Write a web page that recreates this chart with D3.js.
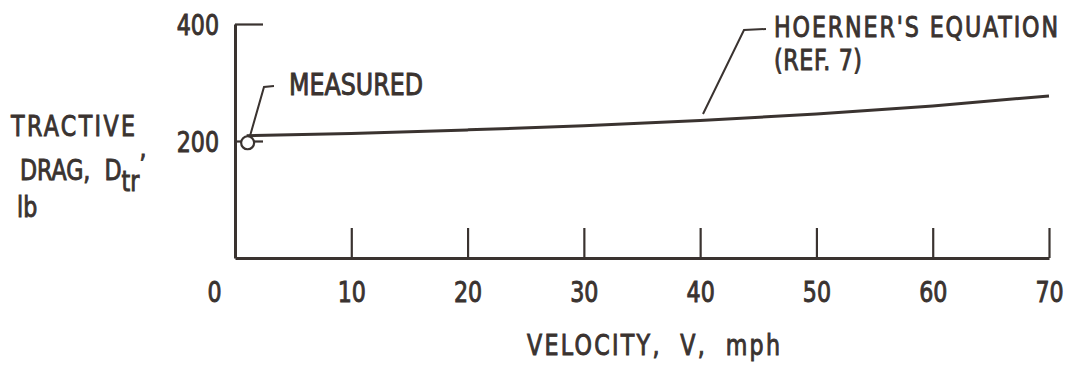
<!DOCTYPE html>
<html>
<head>
<meta charset="utf-8">
<script src="https://cdn.jsdelivr.net/npm/d3@7"></script>
<style>
  html, body { margin: 0; padding: 0; background: #fff; }
  svg { display: block; }
  text { font-family: "DejaVu Sans Condensed", "DejaVu Sans", sans-serif; fill: #3a3330; stroke: #3a3330; stroke-width: 0.9; }
</style>
</head>
<body>
<svg id="chart" width="1069" height="372"></svg>
<script>
// Velocity ticks (mph) and tractive drag ticks (lb)
const xTicks = [0, 10, 20, 30, 40, 50, 60, 70];
const yTicks = [200, 400];

// Hoerner's equation (Ref. 7): drag vs velocity
const hoernerV = [1, 10, 20, 30, 40, 50, 60, 70];
const hoernerD = [209, 213, 219, 226, 235, 246, 260, 277];

// Measured drag point
const measuredV = [1];
const measuredD = [197];

const ink = "#3a3330";
const sx = 0.88; // horizontal squeeze for the tall, narrow lettering
const svg = d3.select("#chart");

const x = d3.scaleLinear().domain([0, 70]).range([235, 1049]);
const y = d3.scaleLinear().domain([0, 400]).range([258, 24]);

// x axis: ticks point up into the plot
const xAxis = svg.append("g")
  .attr("transform", `translate(0,${y(0)})`)
  .call(d3.axisBottom(x).tickValues(xTicks).tickSizeInner(-30).tickSizeOuter(0).tickPadding(24));
xAxis.select(".domain").attr("stroke", ink).attr("stroke-width", 3);
xAxis.selectAll(".tick line").attr("stroke", ink).attr("stroke-width", 2.2);
xAxis.selectAll(".tick text").attr("font-size", 28).attr("font-family", null).attr("fill", null)
  .attr("x", d => d === 0 ? -21 / sx : 0)
  .attr("transform", `scale(${sx},1)`);

// y axis: ticks point right into the plot
const yAxis = svg.append("g")
  .attr("transform", `translate(${x(0)},0)`)
  .call(d3.axisLeft(y).tickValues(yTicks).tickSizeInner(-28).tickSizeOuter(0).tickPadding(16));
yAxis.select(".domain").attr("stroke", ink).attr("stroke-width", 3);
yAxis.selectAll(".tick line").attr("stroke", ink).attr("stroke-width", 2.2);
yAxis.selectAll(".tick text").attr("font-size", 28).attr("font-family", null).attr("fill", null)
  .attr("x", -16 / sx).attr("dy", "0.36em")
  .attr("transform", `scale(${sx},1)`);

// Hoerner curve
const line = d3.line().x((d, i) => x(hoernerV[i])).y(d => y(d)).curve(d3.curveMonotoneX);
svg.append("path").datum(hoernerD)
  .attr("d", line).attr("fill", "none").attr("stroke", ink).attr("stroke-width", 3);

// Measured point
svg.selectAll("circle.meas").data(measuredD).join("circle")
  .attr("class", "meas")
  .attr("cx", (d, i) => x(measuredV[i]) + 1)
  .attr("cy", d => y(d))
  .attr("r", 6.5)
  .attr("fill", "#fff").attr("stroke", ink).attr("stroke-width", 2.2);

// Leader lines
const leader = d3.line();
svg.append("path")
  .attr("d", leader([[250, 136], [264, 87], [274, 86]]))
  .attr("fill", "none").attr("stroke", ink).attr("stroke-width", 2);
svg.append("path")
  .attr("d", leader([[703, 114], [744, 30], [766, 29]]))
  .attr("fill", "none").attr("stroke", ink).attr("stroke-width", 2);

// Narrow label placed at (px, py); optional width fixes its overall length
function label(px, py, str, size, width) {
  const t = svg.append("g").attr("transform", `translate(${px},${py}) scale(${sx},1)`)
    .append("text").attr("font-size", size).attr("xml:space", "preserve");
  if (str !== null) t.text(str);
  if (width) t.attr("textLength", width / sx).attr("lengthAdjust", "spacing");
  return t;
}

// Annotations
label(289, 95, "MEASURED", 30, 134);
label(774, 37, "HOERNER'S EQUATION", 28, 284);
label(774, 70, "(REF. 7)", 28, 88);

// y-axis title
label(11, 136, "TRACTIVE", 28, 124);
const drag = label(20, 180, null, 28);
drag.append("tspan").text("DRAG,  D");
drag.append("tspan").attr("dy", 11).text("tr");
drag.append("tspan").attr("dy", -16).text("’");
label(17, 217, "lb", 28);

// x-axis title
label(527, 355, "VELOCITY,  V,  mph", 28, 253);
</script>
</body>
</html>
